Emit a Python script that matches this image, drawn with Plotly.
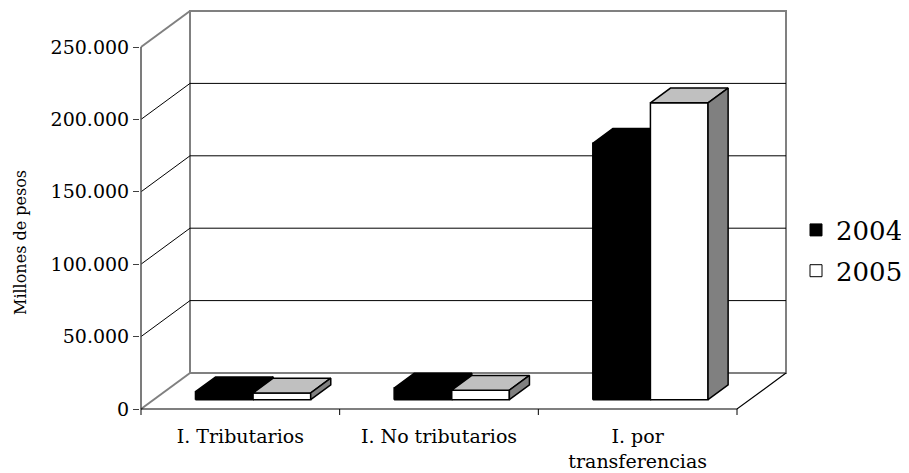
import plotly.graph_objects as go

# ---- data ----
categories = ["I. Tributarios", "I. No tributarios", "I. por<br>transferencias"]
years = ["2004", "2005"]
values_2004 = [5500, 8000, 177000]
values_2005 = [4600, 6500, 205000]
y_ticks = [0, 50000, 100000, 150000, 200000, 250000]

# ---- pseudo-3D projection (data units) ----
PX_PER_CAT = 198.67
PX_PER_UNIT = 72.4 / 50000
DX = 49 / PX_PER_CAT          # depth offset along x (category units)
DY = 36 / PX_PER_UNIT         # depth offset along y (value units)
T0 = 0.26                     # depth where bar front faces sit
DEPTH = 0.41                  # bar depth (fraction of full depth)
BAR_W = 0.29
GROUP_START = 0.21
N = len(categories)
YMAX = y_ticks[-1]

# page offset of the figure div (browser default body margin)
OFF = 8
W, H = 909 - OFF, 473 - OFF
# plot area in window pixels
L, R, T, B = 140, 787, OFF, 420
x_range = [(L - 141) / PX_PER_CAT, (R - 141) / PX_PER_CAT]
y_range = [-(B - 409) / PX_PER_UNIT, (409 - T) / PX_PER_UNIT]


def px(xw):
    return (xw - L) / (R - L)


def py(yw):
    return (B - yw) / (B - T)


fig = go.Figure()


def seg(xs, ys, color, width):
    fig.add_trace(go.Scatter(x=xs, y=ys, mode="lines",
                             line=dict(color=color, width=width),
                             hoverinfo="skip", showlegend=False))


def poly(xs, ys, fill):
    fig.add_trace(go.Scatter(x=xs + [xs[0]], y=ys + [ys[0]], mode="lines",
                             fill="toself", fillcolor=fill,
                             line=dict(color="black", width=1.5),
                             hoverinfo="skip", showlegend=False))


# back wall frame
seg([DX, DX, N + DX, N + DX, DX], [DY, YMAX + DY, YMAX + DY, DY, DY], "#808080", 2)
# grid lines (side wall diagonal + back wall)
for v in y_ticks[1:-1]:
    seg([0, DX, N + DX], [v, v + DY, v + DY], "black", 1)
# side wall top / bottom edges
seg([0, DX], [YMAX, YMAX + DY], "#808080", 2)
seg([0, DX], [0, DY], "#808080", 2)
# front value axis line
seg([0, 0], [0, YMAX], "#505050", 1.5)
# floor front edge and right edge
seg([0, N, N + DX], [0, 0, DY], "black", 1.2)
# category boundary ticks
for i in range(N + 1):
    seg([i, i], [0, -6 / PX_PER_UNIT], "black", 1)

# bars
styles = {
    "2004": ("black", "black", "black"),
    "2005": ("white", "#c0c0c0", "#808080"),
}
series = {"2004": values_2004, "2005": values_2005}
dDX, dDY = DEPTH * DX, DEPTH * DY
base = T0 * DY
for i in range(N):
    for s, yr in enumerate(years):
        v = series[yr][i]
        front, top, side = styles[yr]
        xs = i + GROUP_START + s * BAR_W + T0 * DX
        xe = xs + BAR_W
        poly([xs, xe, xe, xs], [base, base, base + v, base + v], front)
        poly([xs, xe, xe + dDX, xs + dDX],
             [base + v, base + v, base + v + dDY, base + v + dDY], top)
        poly([xe, xe + dDX, xe + dDX, xe],
             [base, base + dDY, base + v + dDY, base + v], side)

# legend entries
for yr in years:
    fig.add_trace(go.Bar(x=[None], y=[None], name=yr, legendgroup=yr,
                         marker=dict(color=styles[yr][0],
                                     line=dict(color="black", width=1))))

fig.update_layout(
    width=W, height=H,
    margin=dict(l=L - OFF, r=W - (R - OFF), t=T - OFF, b=H - (B - OFF),
                autoexpand=False),
    paper_bgcolor="white", plot_bgcolor="white",
    separators=",.",
    font=dict(family="DejaVu Serif", color="black", size=16),
    showlegend=True,
    legend=dict(x=px(796), y=py(250.5),
                xanchor="left", yanchor="middle",
                font=dict(size=26), tracegroupgap=4,
                bgcolor="rgba(0,0,0,0)"),
    xaxis=dict(type="linear", range=x_range, showgrid=False, zeroline=False,
               showline=False, tickvals=[i + 0.5 for i in range(N)],
               ticktext=categories, ticks="", tickfont=dict(size=19),
               ticklabelstandoff=3, fixedrange=True),
    yaxis=dict(type="linear", range=y_range, showgrid=False, zeroline=False,
               showline=False, tickvals=y_ticks, tickformat=",d",
               ticks="outside", ticklen=6, tickcolor="#404040",
               tickfont=dict(size=19), fixedrange=True),
    annotations=[dict(text="Millones de pesos", textangle=-90,
                      xref="paper", yref="paper",
                      xanchor="center", yanchor="middle",
                      x=px(20), y=py(243),
                      showarrow=False, font=dict(size=16))],
)

fig.write_html("out.html")
